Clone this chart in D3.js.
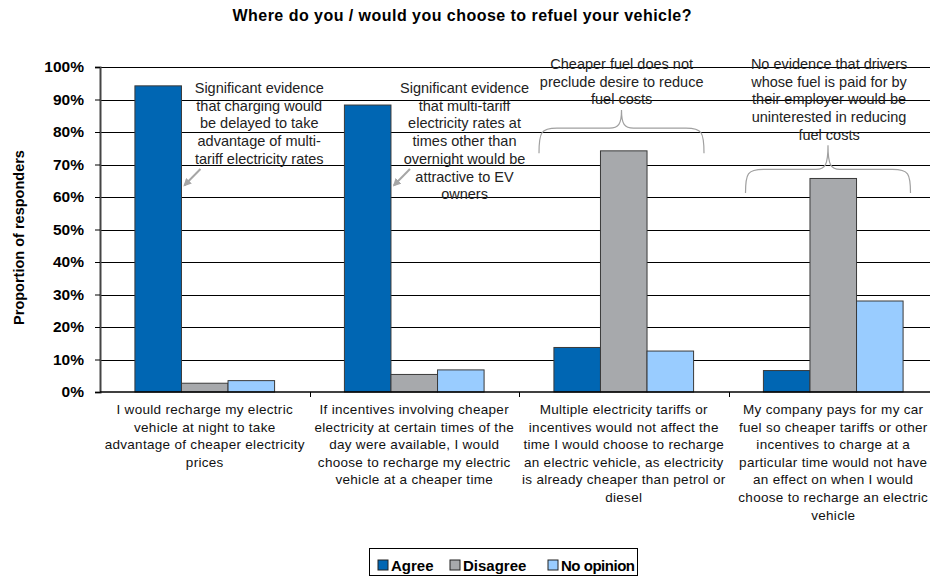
<!DOCTYPE html>
<html>
<head>
<meta charset="utf-8">
<script src="https://cdn.jsdelivr.net/npm/d3@7"></script>
<style>
  body { margin: 0; background: #fff; }
  svg { display: block; font-family: Arial, "Liberation Sans", sans-serif; }
</style>
</head>
<body>
<div id="chart"></div>
<script>
// data
const categories = [
  ['I would recharge my electric', 'vehicle at night to take', 'advantage of cheaper electricity', 'prices'],
  ['If incentives involving cheaper', 'electricity at certain times of the', 'day were available, I would', 'choose to recharge my electric', 'vehicle at a cheaper time'],
  ['Multiple electricity tariffs or', 'incentives would not affect the', 'time I would choose to recharge', 'an electric vehicle, as electricity', 'is already cheaper than petrol or', 'diesel'],
  ['My company pays for my car', 'fuel so cheaper tariffs or other', 'incentives to charge at a', 'particular time would not have', 'an effect on when I would', 'choose to recharge an electric', 'vehicle']
];
const seriesNames = ['Agree', 'Disagree', 'No opinion'];
const agree = [94.2, 88.3, 13.7, 6.6];
const disagree = [2.7, 5.4, 74.2, 65.7];
const noOpinion = [3.5, 6.8, 12.6, 28.0];
const yTicks = [0, 10, 20, 30, 40, 50, 60, 70, 80, 90, 100];
const colors = ['#0066b3', '#a7a9ac', '#99ccff'];

const notes = [
  { cat: 0, lines: ['Significant evidence', 'that charging would', 'be delayed to take', 'advantage of multi-', 'tariff electricity rates'] },
  { cat: 1, lines: ['Significant evidence', 'that multi-tariff', 'electricity rates at', 'times other than', 'overnight would be', 'attractive to EV', 'owners'] },
  { cat: 2, lines: ['Cheaper fuel does not', 'preclude desire to reduce', 'fuel costs'] },
  { cat: 3, lines: ['No evidence that drivers', 'whose fuel is paid for by', 'their employer would be', 'uninterested in reducing', 'fuel costs'] }
];

const width = 930, height = 577;
const margin = { top: 67, left: 100, bottom: 185 };
const plotRight = 938; // plot runs past the picture edge, as in the original

const svg = d3.select('#chart').append('svg')
  .attr('width', width)
  .attr('height', height);

const x = d3.scaleBand()
  .domain(d3.range(categories.length))
  .range([margin.left, plotRight]);

const xInner = d3.scaleBand()
  .domain(seriesNames)
  .range([0, x.bandwidth()])
  .paddingOuter(0.75)
  .paddingInner(0);

const y = d3.scaleLinear()
  .domain([0, 100])
  .range([height - margin.bottom, margin.top]);

const values = [agree, disagree, noOpinion];

// title
svg.append('text')
  .attr('x', 462)
  .attr('y', 21)
  .attr('text-anchor', 'middle')
  .attr('font-size', 16)
  .attr('font-weight', 'bold')
  .attr('textLength', 459)
  .attr('lengthAdjust', 'spacing')
  .text('Where do you / would you choose to refuel your vehicle?');

// gridlines
svg.append('g')
  .selectAll('line')
  .data(yTicks.filter(d => d > 0))
  .join('line')
    .attr('x1', margin.left)
    .attr('x2', plotRight)
    .attr('y1', d => Math.round(y(d)) + 0.5)
    .attr('y2', d => Math.round(y(d)) + 0.5)
    .attr('stroke', '#000')
    .attr('stroke-width', 1);

// bars
const groups = svg.append('g')
  .selectAll('g')
  .data(seriesNames)
  .join('g')
    .attr('fill', (d, i) => colors[i]);

groups.selectAll('rect')
  .data((s, si) => values[si].map((v, ci) => ({ s, v, ci })))
  .join('rect')
    .attr('x', d => x(d.ci) + xInner(d.s))
    .attr('y', d => y(d.v))
    .attr('width', xInner.bandwidth())
    .attr('height', d => y(0) - y(d.v))
    .attr('stroke', '#3a3a3a')
    .attr('stroke-width', 1);

// y axis
const yAxis = svg.append('g')
  .attr('transform', `translate(${margin.left},0)`)
  .call(d3.axisLeft(y).tickValues(yTicks).tickFormat(d => d + '%').tickSize(5).tickPadding(11));
yAxis.select('.domain').attr('stroke', '#444').attr('stroke-width', 2);
yAxis.selectAll('.tick line').attr('stroke', '#000');
yAxis.selectAll('.tick text')
  .attr('font-size', 15.5)
  .attr('font-weight', 'bold')
  .attr('fill', '#000')
  .attr('font-family', 'Arial, "Liberation Sans", sans-serif');

// x axis
const xAxisG = svg.append('g');
xAxisG.append('line')
  .attr('x1', margin.left)
  .attr('x2', plotRight)
  .attr('y1', y(0))
  .attr('y2', y(0))
  .attr('stroke', '#000')
  .attr('stroke-width', 1.5);
xAxisG.selectAll('line.tick')
  .data(d3.range(1, categories.length))
  .join('line')
    .attr('class', 'tick')
    .attr('x1', d => Math.round(x(d)) + 0.5)
    .attr('x2', d => Math.round(x(d)) + 0.5)
    .attr('y1', y(0))
    .attr('y2', y(0) + 5)
    .attr('stroke', '#000');

const catLabels = xAxisG.selectAll('text.cat')
  .data(categories)
  .join('text')
    .attr('class', 'cat')
    .attr('text-anchor', 'middle')
    .attr('font-size', 13.5)
    .attr('letter-spacing', 0.3)
    .attr('fill', '#111');
catLabels.selectAll('tspan')
  .data((d, i) => d.map(line => ({ line, i })))
  .join('tspan')
    .attr('x', d => x(d.i) + x.bandwidth() / 2)
    .attr('y', (d, j) => y(0) + 22 + j * 17.6)
    .text(d => d.line);

// y axis title
svg.append('text')
  .attr('transform', `translate(24,${(y(0) + y(100)) / 2 + 8}) rotate(-90)`)
  .attr('text-anchor', 'middle')
  .attr('font-size', 14.5)
  .attr('font-weight', 'bold')
  .text('Proportion of responders');

// annotations: text boxes, arrows and braces
const noteSpots = [
  { dx: 0.76, v: 92 },
  { dx: 0.74, v: 92 },
  { dx: 0.49, v: 99.4 },
  { dx: 0.48, v: 99.4 }
];
const noteG = svg.append('g').attr('font-size', 14.5).attr('fill', '#222');
notes.forEach((n, i) => {
  const cx = x(n.cat) + x.bandwidth() * noteSpots[i].dx;
  noteG.append('text')
    .attr('text-anchor', 'middle')
    .selectAll('tspan')
    .data(n.lines)
    .join('tspan')
      .attr('x', cx)
      .attr('y', (d, j) => y(noteSpots[i].v) + j * 17.7)
      .text(d => d);
});

svg.append('defs').append('marker')
  .attr('id', 'arrow')
  .attr('viewBox', '0 0 10 10')
  .attr('refX', 8)
  .attr('refY', 5)
  .attr('markerWidth', 4)
  .attr('markerHeight', 4)
  .attr('orient', 'auto')
  .append('path')
    .attr('d', 'M0,0 L10,5 L0,10 Z')
    .attr('fill', '#a6a6a6');

// arrows point at the tall Agree bars of the first two questions
[0, 1].forEach(ci => {
  const bx = x(ci) + xInner('Agree') + xInner.bandwidth();
  svg.append('line')
    .attr('x1', bx + 19)
    .attr('y1', y(68.6))
    .attr('x2', bx + 3)
    .attr('y2', y(63.6))
    .attr('stroke', '#a6a6a6')
    .attr('stroke-width', 2)
    .attr('marker-end', 'url(#arrow)');
});

// curly braces over the Disagree bars of the last two questions
function brace(x0, x1, yb, yh, yt) {
  const xm = (x0 + x1) / 2;
  return `M${x0},${yb} C${x0},${yh + 4} ${x0 + 2},${yh} ${x0 + 18},${yh}`
    + ` L${xm - 12},${yh} C${xm - 3},${yh} ${xm},${yh - 4} ${xm},${yt}`
    + ` C${xm},${yh - 4} ${xm + 3},${yh} ${xm + 12},${yh}`
    + ` L${x1 - 18},${yh} C${x1 - 2},${yh} ${x1},${yh + 4} ${x1},${yb}`;
}
const braceSpots = [
  { cat: 2, from: 20, to: 185, vb: 73.5, vh: 81.2, vt: 86.8 },
  { cat: 3, from: 17, to: 182, vb: 61.2, vh: 68.5, vt: 75.9 }
];
svg.append('g')
  .selectAll('path')
  .data(braceSpots)
  .join('path')
    .attr('d', d => brace(x(d.cat) + d.from, x(d.cat) + d.to, y(d.vb), y(d.vh), y(d.vt)))
    .attr('fill', 'none')
    .attr('stroke', '#a0a0a0')
    .attr('stroke-width', 1.2);

// legend
const legend = svg.append('g');
legend.append('rect')
  .attr('x', 369.5)
  .attr('y', 548.5)
  .attr('width', 268)
  .attr('height', 27)
  .attr('fill', '#fff')
  .attr('stroke', '#000');
const legendX = [378, 450, 548];
const items = legend.selectAll('g.item')
  .data(seriesNames)
  .join('g')
    .attr('class', 'item')
    .attr('transform', (d, i) => `translate(${legendX[i]},560)`);
items.append('rect')
  .attr('width', 10)
  .attr('height', 10)
  .attr('fill', (d, i) => colors[i])
  .attr('stroke', '#222');
items.append('text')
  .attr('x', 13)
  .attr('y', 10.5)
  .attr('font-size', 15)
  .attr('font-weight', 'bold')
  .each(function (d) {
    if (d === 'No opinion') d3.select(this).attr('textLength', 74).attr('lengthAdjust', 'spacing');
  })
  .text(d => d);
</script>
</body>
</html>
